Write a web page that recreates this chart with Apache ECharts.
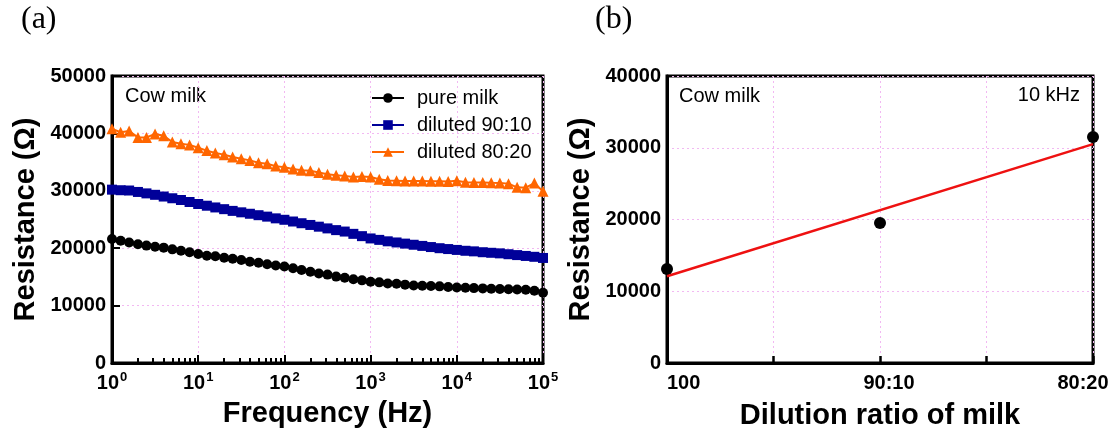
<!DOCTYPE html>
<html>
<head>
<meta charset="utf-8">
<script src="https://cdn.jsdelivr.net/npm/echarts@6/dist/echarts.min.js"></script>
<style>
  html, body { margin: 0; padding: 0; background: #fff; }
  #chart { width: 1113px; height: 435px; }
</style>
</head>
<body>
<div id="chart"></div>
<script>
// (a) resistance vs frequency, log sweep 1 Hz .. 100 kHz
var freqHz = [1, 1.26, 1.58, 2, 2.51, 3.16, 3.98, 5.01, 6.31, 7.94,
  10, 12.6, 15.8, 20, 25.1, 31.6, 39.8, 50.1, 63.1, 79.4,
  100, 126, 158, 200, 251, 316, 398, 501, 631, 794,
  1000, 1260, 1580, 2000, 2510, 3160, 3980, 5010, 6310, 7940,
  10000, 12600, 15800, 20000, 25100, 31600, 39800, 50100, 63100, 79400, 100000];

var pureMilk = [21600, 21300, 21000, 20700, 20450, 20250, 20100, 19800, 19550, 19300,
  19000, 18700, 18600, 18350, 18150, 17950, 17650, 17450, 17200, 17000,
  16800, 16500, 16200, 15900, 15600, 15400, 15050, 14850, 14600, 14400,
  14150, 14050, 13850, 13800, 13650, 13500, 13450, 13400, 13350, 13250,
  13150, 13100, 13050, 13000, 12950, 12900, 12850, 12800, 12750, 12600, 12250];

var diluted9010 = [30200, 30100, 30050, 29800, 29550, 29300, 29000, 28700, 28400, 28050,
  27700, 27400, 27100, 26800, 26500, 26250, 26000, 25750, 25500, 25200,
  24950, 24650, 24350, 24050, 23750, 23450, 23150, 22900, 22500, 22100,
  21700, 21450, 21200, 21000, 20800, 20600, 20400, 20200, 20000, 19850,
  19700, 19550, 19450, 19300, 19200, 19100, 18950, 18800, 18650, 18500, 18300];

var diluted8020 = [40800, 40200, 40400, 39300, 39300, 39900, 39600, 38500, 38200, 38000,
  37500, 37000, 36600, 36300, 35900, 35600, 35300, 34900, 34700, 34300,
  34100, 33800, 33600, 33500, 33200, 32900, 32700, 32600, 32400, 32500,
  32400, 32000, 31800, 31750, 31700, 31700, 31700, 31650, 31650, 31600,
  31750, 31500, 31450, 31450, 31400, 31350, 31250, 30600, 30550, 31350, 29900];

// (b) resistance at 10 kHz vs dilution ratio
var ratioLabels = ['100', '90:10', '80:20'];
var ratioResistance = [13100, 19500, 31500];
var fitLine = [12100, 30500]; // linear fit at first / last ratio

var yTicksA = [0, 10000, 20000, 30000, 40000, 50000];
var yTicksB = [0, 10000, 20000, 30000, 40000];

function pairs(xs, ys) {
  return ys.map(function (v, i) { return [xs[i], v]; });
}

// minor ticks 2..9 of each decade
var minorTicks = [];
for (var d = 1; d < 100000; d *= 10) {
  for (var k = 2; k <= 9; k++) minorTicks.push(k * d);
}

var FONT = '"Liberation Sans", Arial, sans-serif';
var gridLine = { show: true, lineStyle: { color: '#f2b8f2', width: 1, type: [2, 3] } };
var axisLine = { show: true, onZero: false, lineStyle: { color: '#000', width: 3 } };
var tickLbl = { color: '#000', fontFamily: FONT, fontWeight: 'bold', fontSize: 20 };
var nameStyle = { color: '#000', fontFamily: FONT, fontWeight: 'bold', fontSize: 29 };

var chart = echarts.init(document.getElementById('chart'));

var option = {
  backgroundColor: '#fff',
  animation: false,
  grid: [
    { left: 112, right: 570, top: 76, bottom: 72, show: true, borderColor: '#000', borderWidth: 3 },
    { left: 667, right: 20, top: 76, bottom: 72, show: true, borderColor: '#000', borderWidth: 3 }
  ],
  xAxis: [
    {
      type: 'log', logBase: 10, min: 1, max: 100000, gridIndex: 0,
      name: 'Frequency (Hz)', nameLocation: 'middle', nameGap: 36, nameTextStyle: nameStyle,
      axisLine: axisLine,
      axisTick: { show: true, inside: true, length: 8, lineStyle: { color: '#000', width: 2 } },
      splitLine: gridLine,
      axisLabel: {
        margin: 8,
        formatter: function (v) {
          return '{b|10}{s|' + Math.round(Math.log10(v)) + '}';
        },
        rich: {
          b: { color: '#000', fontFamily: FONT, fontWeight: 'bold', fontSize: 20 },
          s: { color: '#000', fontFamily: FONT, fontWeight: 'bold', fontSize: 13, padding: [0, 0, 11, 1] }
        }
      }
    },
    {
      type: 'log', logBase: 10, min: 1, max: 100000, gridIndex: 0, position: 'bottom',
      axisLine: { show: false },
      axisLabel: { show: false },
      splitLine: { show: false },
      axisTick: { show: true, inside: true, length: 5, customValues: minorTicks, lineStyle: { color: '#000', width: 2 } }
    },
    {
      type: 'value', min: 0, max: 2, interval: 0.5, gridIndex: 1,
      name: 'Dilution ratio of milk', nameLocation: 'middle', nameGap: 38, nameTextStyle: nameStyle,
      axisLine: axisLine,
      axisTick: { show: true, inside: true, length: 7, lineStyle: { color: '#000', width: 2.5 } },
      splitLine: gridLine,
      axisLabel: {
        margin: 10,
        showMinLabel: true, showMaxLabel: true,
        alignMinLabel: 'left',
        formatter: function (v) {
          if (v === 0) return '{a|' + ratioLabels[0] + '}';
          if (v === 1) return '{m|' + ratioLabels[1] + '}';
          if (v === 2) return '{z|' + ratioLabels[2] + '}';
          return '';
        },
        rich: {
          a: tickLbl,
          m: Object.assign({ padding: [0, 0, 0, 18] }, tickLbl),
          z: Object.assign({ padding: [0, 20, 0, 0] }, tickLbl)
        }
      }
    }
  ],
  yAxis: [
    {
      type: 'value', min: 0, max: 50000, interval: 10000, gridIndex: 0,
      name: 'Resistance (Ω)', nameLocation: 'middle', nameGap: 72, nameTextStyle: nameStyle,
      axisLine: axisLine,
      axisTick: { show: true, inside: true, length: 8, lineStyle: { color: '#000', width: 2 } },
      splitLine: gridLine,
      axisLabel: Object.assign({ margin: 6, formatter: function (v) { return yTicksA.indexOf(v) >= 0 ? String(v) : ''; } }, tickLbl)
    },
    {
      type: 'value', min: 0, max: 40000, interval: 10000, gridIndex: 1,
      name: 'Resistance (Ω)', nameLocation: 'middle', nameGap: 72, nameTextStyle: nameStyle,
      axisLine: axisLine,
      axisTick: { show: false },
      splitLine: gridLine,
      axisLabel: Object.assign({ margin: 6, formatter: function (v) { return yTicksB.indexOf(v) >= 0 ? String(v) : ''; } }, tickLbl)
    }
  ],
  legend: {
    orient: 'vertical',
    left: 366, top: 83,
    itemWidth: 32, itemHeight: 12, itemGap: 7,
    textStyle: { color: '#000', fontFamily: FONT, fontSize: 20, padding: [0, 0, 0, 8] },
    data: ['pure milk', 'diluted 90:10', 'diluted 80:20']
  },
  series: [
    {
      name: 'pure milk', type: 'line', xAxisIndex: 0, yAxisIndex: 0,
      data: pairs(freqHz, pureMilk),
      symbol: 'circle', symbolSize: 10,
      itemStyle: { color: '#000' }, lineStyle: { color: '#000', width: 2 }
    },
    {
      name: 'diluted 90:10', type: 'line', xAxisIndex: 0, yAxisIndex: 0,
      data: pairs(freqHz, diluted9010),
      symbol: 'rect', symbolSize: 10,
      itemStyle: { color: '#000099' }, lineStyle: { color: '#000099', width: 2 }
    },
    {
      name: 'diluted 80:20', type: 'line', xAxisIndex: 0, yAxisIndex: 0,
      data: pairs(freqHz, diluted8020),
      symbol: 'triangle', symbolSize: 11,
      itemStyle: { color: '#ff6600' }, lineStyle: { color: '#ff6600', width: 2 }
    },
    {
      name: 'fit', type: 'line', xAxisIndex: 2, yAxisIndex: 1,
      data: [[0, fitLine[0]], [2, fitLine[1]]],
      symbol: 'none', lineStyle: { color: '#ee1111', width: 2.5 }
    },
    {
      name: '10 kHz', type: 'scatter', xAxisIndex: 2, yAxisIndex: 1, clip: false,
      data: ratioResistance.map(function (v, i) { return [i, v]; }),
      symbol: 'circle', symbolSize: 12,
      itemStyle: { color: '#000', opacity: 1 }
    }
  ],
  graphic: [
    { type: 'text', left: 21, top: 4, style: { text: '(a)', font: '32px "Liberation Serif", "Times New Roman", serif', fill: '#000' } },
    { type: 'text', left: 595, top: 4, style: { text: '(b)', font: '32px "Liberation Serif", "Times New Roman", serif', fill: '#000' } },
    { type: 'text', left: 125, top: 86, style: { text: 'Cow milk', font: '20px ' + FONT, fill: '#000' } },
    { type: 'text', left: 679, top: 86, style: { text: 'Cow milk', font: '20px ' + FONT, fill: '#000' } },
    { type: 'text', right: 33, top: 85, style: { text: '10 kHz', font: '20px ' + FONT, fill: '#000' } }
  ]
};

chart.setOption(option);
</script>
</body>
</html>
